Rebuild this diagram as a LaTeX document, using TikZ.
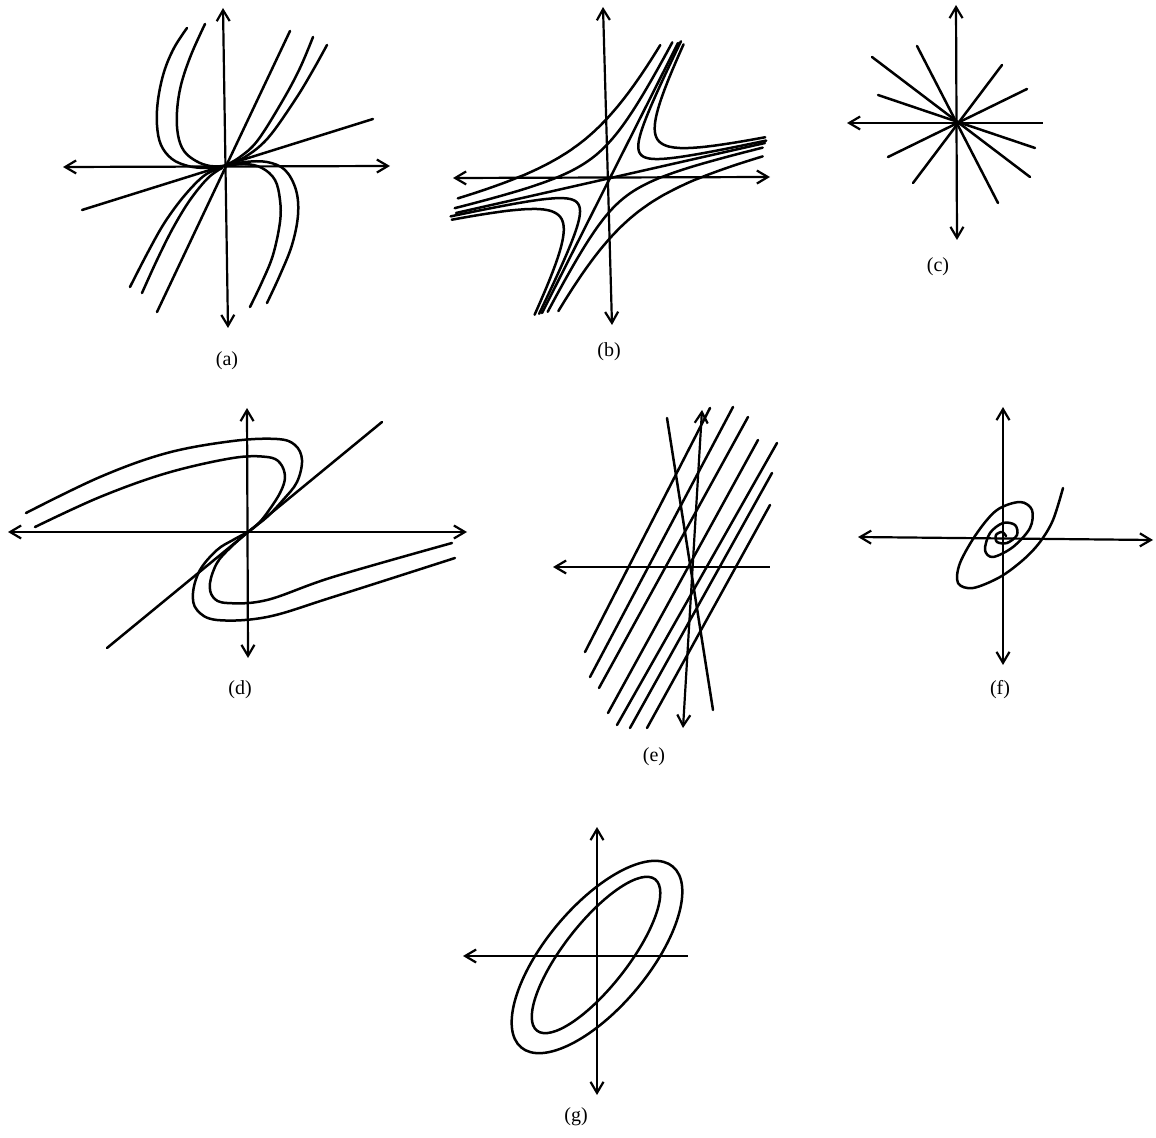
\documentclass[tikz,border=0pt]{standalone}
\usepackage{fontspec}
\setmainfont{Liberation Serif}
\usetikzlibrary{arrows.meta}
\begin{document}
\begin{tikzpicture}[x=0.5pt,y=-0.5pt,
  curve/.style={line width=1.25pt,line cap=round,line join=round},
  axis/.style={line width=1.1pt,arrows={Straight Barb[length=5.5pt,width=6.5pt]-Straight Barb[length=5.5pt,width=6.5pt]}},
  axisl/.style={line width=1.1pt,arrows={Straight Barb[length=5.5pt,width=6.5pt]-}},
  lbl/.style={font=\fontsize{10}{12}\selectfont,inner sep=0pt}]
\useasboundingbox (0,0) rectangle (1156,1138);

% ---------------- (a) ----------------
\coordinate (aL) at (63,167); \coordinate (aR) at (390,166);
\coordinate (aT) at (223,8);  \coordinate (aB) at (228,328);
\draw[axis] (aL) -- (aR);
\draw[axis] (aT) -- (aB);
\coordinate (aS1) at (157,312); \coordinate (aS2) at (290,31);
\coordinate (aH1) at (82,210);  \coordinate (aH2) at (373,119);
\draw[curve] (aS1) -- (aS2);
\draw[curve] (aH1) -- (aH2);
\draw[curve] plot[smooth,tension=0.6] coordinates {(222,167) (205,168) (188,166) (172,159) (161,145) (157,125) (158,100) (164,72) (174,48) (187,28)};
\draw[curve] plot[smooth,tension=0.6] coordinates {(224,166) (210,166) (196,161) (184,151) (178,135) (177,112) (181,85) (191,55) (205,24)};
\draw[curve] plot[smooth,tension=0.6] coordinates {(226,166) (245,162) (267,162) (285,170) (296,190) (298,215) (292,245) (280,275) (267,303)};
\draw[curve] plot[smooth,tension=0.6] coordinates {(226,166) (245,164) (262,168) (275,180) (280,200) (280,222) (273,255) (262,282) (250,307)};
\draw[curve] plot[smooth,tension=0.6] coordinates {(226,165) (240,157) (258,140) (283,100) (300,68) (313,37)};
\draw[curve] plot[smooth,tension=0.6] coordinates {(226,165) (245,157) (268,138) (295,100) (312,72) (327,45)};
\draw[curve] plot[smooth,tension=0.6] coordinates {(222,168) (205,175) (185,195) (165,222) (148,252) (130,287)};
\draw[curve] plot[smooth,tension=0.6] coordinates {(222,168) (208,178) (190,200) (173,228) (157,260) (142,293)};
\node[lbl] (la) at (227,361) {(a)};

% ---------------- (b) ----------------
\coordinate (bL) at (453,178); \coordinate (bR) at (770,177);
\coordinate (bT) at (603,7);   \coordinate (bB) at (612,325);
\draw[axis] (bL) -- (bR);
\draw[axis] (bT) -- (bB);
\coordinate (bS1) at (542,313); \coordinate (bS2) at (678,43);
\coordinate (bH1) at (456,213); \coordinate (bH2) at (765,143);
\draw[curve] (bS1) -- (bS2);
\draw[curve] (bH1) -- (bH2);
% upper-left sector
\draw[curve] plot[domain=2.904:5.075,samples=60,smooth] ({610-exp(\x)+0.5*2500*exp(-\x)},{178+0.225*exp(\x)-2500*exp(-\x)});
\draw[curve] plot[domain=1.825:5.063,samples=60,smooth] ({610-exp(\x)+0.5*850*exp(-\x)},{178+0.225*exp(\x)-850*exp(-\x)});
% upper-right sector
\draw[curve] plot[domain=1.079:5.043,samples=70,smooth] ({610+exp(\x)+0.5*400*exp(-\x)},{178-0.225*exp(\x)-400*exp(-\x)});
\draw[curve] plot[domain=2.025:5.024,samples=70,smooth] ({610+exp(\x)+0.5*1000*exp(-\x)},{178-0.225*exp(\x)-1000*exp(-\x)});
% lower-right sector
\draw[curve] plot[domain=1.646:5.043,samples=60,smooth] ({610+exp(\x)-0.5*700*exp(-\x)},{178-0.225*exp(\x)+700*exp(-\x)});
\draw[curve] plot[domain=2.821:5.075,samples=60,smooth] ({610+exp(\x)-0.5*2300*exp(-\x)},{178-0.225*exp(\x)+2300*exp(-\x)});
% lower-left sector
\draw[curve] plot[domain=1.204:5.063,samples=70,smooth] ({610-exp(\x)-0.5*450*exp(-\x)},{178+0.225*exp(\x)+450*exp(-\x)});
\draw[curve] plot[domain=2.07:5.043,samples=70,smooth] ({610-exp(\x)-0.5*1070*exp(-\x)},{178+0.225*exp(\x)+1070*exp(-\x)});
\node[lbl] (lb) at (609,352) {(b)};

% ---------------- (c) ----------------
\coordinate (cL) at (847,123); \coordinate (cR) at (1043,123);
\coordinate (cT) at (956,5);   \coordinate (cB) at (957,240);
\draw[axisl] (cL) -- (cR);
\draw[axis] (cT) -- (cB);
\coordinate (c1a) at (872,57);   \coordinate (c1b) at (1030,177);
\coordinate (c2a) at (917,46);   \coordinate (c2b) at (998,203);
\coordinate (c3a) at (878,95);   \coordinate (c3b) at (1035,148);
\coordinate (c4a) at (1002,65);  \coordinate (c4b) at (913,183);
\coordinate (c5a) at (1027,89);  \coordinate (c5b) at (888,157);
\foreach \r in {1,...,5} {\draw[curve] (c\r a) -- (c\r b);}
\node[lbl] (lc) at (938,267) {(c)};

% ---------------- (d) ----------------
\coordinate (dL) at (8,532);   \coordinate (dR) at (467,532);
\coordinate (dT) at (247,408); \coordinate (dB) at (248,658);
\draw[axis] (dL) -- (dR);
\draw[axis] (dT) -- (dB);
\coordinate (dS1) at (107,648); \coordinate (dS2) at (382,422);
\draw[curve] (dS1) -- (dS2);
\draw[curve] plot[smooth,tension=0.6] coordinates {(26,513) (100,477) (167,453) (233,441) (277,439) (295,445) (302,460) (297,482) (283,500) (267,517) (253,528) (248,532)};
\draw[curve] plot[smooth,tension=0.6] coordinates {(35,527) (100,497) (167,473) (233,458) (267,457) (280,463) (285,477) (280,493) (267,513) (257,525) (248,532)};
\draw[curve] plot[smooth,tension=0.6] coordinates {(455,558) (333,597) (267,617) (217,620) (197,610) (193,593) (200,570) (217,550) (233,540) (248,532)};
\draw[curve] plot[smooth,tension=0.6] coordinates {(452,543) (333,577) (267,600) (227,603) (213,597) (210,583) (217,563) (230,548) (248,532)};
\node[lbl] (ld) at (240,690) {(d)};

% ---------------- (e) ----------------
\coordinate (eL) at (553,567); \coordinate (eR) at (770,567);
\coordinate (eT) at (702,410); \coordinate (eB) at (683,728);
\draw[axisl] (eL) -- (eR);
\draw[axis] (eT) -- (eB);
\coordinate (eN1) at (667,418); \coordinate (eN2) at (713,710);
\draw[curve] (eN1) -- (eN2);
\coordinate (e1a) at (585,652); \coordinate (e1b) at (710,408);
\coordinate (e2a) at (590,677); \coordinate (e2b) at (733,407);
\coordinate (e3a) at (599,688); \coordinate (e3b) at (748,417);
\coordinate (e4a) at (608,713); \coordinate (e4b) at (758,440);
\coordinate (e5a) at (617,725); \coordinate (e5b) at (777,443);
\coordinate (e6a) at (630,728); \coordinate (e6b) at (772,473);
\coordinate (e7a) at (647,728); \coordinate (e7b) at (770,505);
\foreach \r in {1,...,7} {\draw[curve] (e\r a) -- (e\r b);}
\node[lbl] (le) at (654,757) {(e)};

% ---------------- (f) ----------------
\coordinate (fL) at (858,537); \coordinate (fR) at (1153,540);
\coordinate (fT) at (1003,407); \coordinate (fB) at (1003,665);
\draw[axis] (fL) -- (fR);
\draw[axis] (fT) -- (fB);
\draw[curve] plot[smooth,tension=0.55] coordinates {(1063,488) (1053,520) (1040,542) (1023,560) (1000,577) (973,588) (958,583) (960,563) (977,533) (997,510) (1020,502) (1032,510) (1030,528) (1013,547) (993,557) (985,550) (990,533) (1003,523) (1015,525) (1017,535) (1007,543) (997,542) (996,535) (1002,532) (1006,536)};
\node[lbl] (lf) at (1000,690) {(f)};

% ---------------- (g) ----------------
\coordinate (gL) at (463,956); \coordinate (gR) at (688,956);
\coordinate (gT) at (597,827); \coordinate (gB) at (597,1095);
\draw[axisl] (gL) -- (gR);
\draw[axis] (gT) -- (gB);
\coordinate (gC) at (597,957);
\draw[curve,rotate around={50:(gC)}] (gC) ellipse [x radius=118,y radius=51];
\draw[curve,rotate around={52:(gC)}] (598,955) ellipse [x radius=96,y radius=32];
\node[lbl] (lg) at (576,1117) {(g)};
\end{tikzpicture}
\end{document}
